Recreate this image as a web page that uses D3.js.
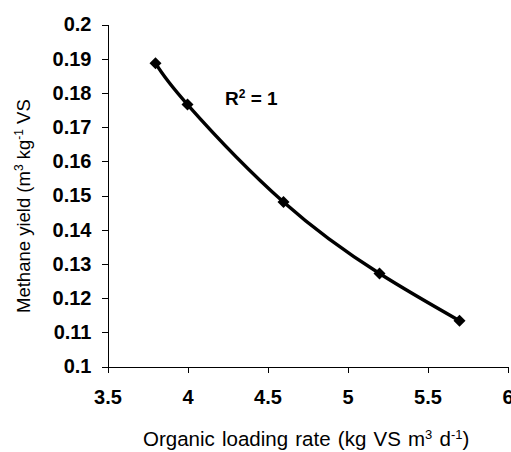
<!DOCTYPE html>
<html>
<head>
<meta charset="utf-8">
<script src="https://cdn.jsdelivr.net/npm/d3@7"></script>
<style>
  body { margin: 0; background: #fff; }
  svg { display: block; font-family: Arial, "Liberation Sans", sans-serif; }
  .tick text { font-weight: bold; font-size: 20px; fill: #000; }
  .axis path, .axis line { stroke: #000; stroke-width: 1px; shape-rendering: crispEdges; }
</style>
</head>
<body>
<div id="chart"></div>
<script>
// values
var loadingRate = [3.8, 4.0, 4.6, 5.2, 5.7];
var methaneYield = [0.1887, 0.1766, 0.1481, 0.1272, 0.1134];
var xTicks = [3.5, 4, 4.5, 5, 5.5, 6];
var yTicks = [0.1, 0.11, 0.12, 0.13, 0.14, 0.15, 0.16, 0.17, 0.18, 0.19, 0.2];

var W = 511, H = 452;
var svg = d3.select("#chart").append("svg").attr("width", W).attr("height", H);

var x = d3.scaleLinear().domain([3.5, 6]).range([107.5, 507.5]);
var y = d3.scaleLinear().domain([0.1, 0.2]).range([366.5, 24.5]);

var data = loadingRate.map(function (d, i) { return { x: d, y: methaneYield[i] }; });

// axes
svg.append("g")
    .attr("class", "axis")
    .attr("transform", "translate(0," + y(0.1) + ")")
    .call(d3.axisBottom(x).tickValues(xTicks).tickSizeInner(6).tickSizeOuter(0).tickPadding(17)
        .tickFormat(d3.format("")));

svg.append("g")
    .attr("class", "axis")
    .attr("transform", "translate(" + x(3.5) + ",0)")
    .call(d3.axisLeft(y).tickValues(yTicks).tickSizeInner(6).tickSizeOuter(0).tickPadding(10)
        .tickFormat(d3.format("")));

// trendline (polynomial fit, passes through every point)
var line = d3.line()
    .x(function (d) { return x(d.x); })
    .y(function (d) { return y(d.y); })
    .curve(d3.curveNatural);

svg.append("path")
    .datum(data)
    .attr("d", line)
    .attr("fill", "none")
    .attr("stroke", "#000")
    .attr("stroke-width", 3.4)
    .attr("stroke-linejoin", "round");

// diamond markers
svg.selectAll(".marker")
    .data(data)
    .enter().append("path")
    .attr("class", "marker")
    .attr("d", d3.symbol().type(d3.symbolSquare).size(72))
    .attr("transform", function (d) { return "translate(" + x(d.x) + "," + y(d.y) + ") rotate(45)"; })
    .attr("fill", "#000");

// R squared label
var r2 = svg.append("text")
    .attr("x", 225)
    .attr("y", 105)
    .attr("font-weight", "bold")
    .attr("font-size", "19px");
r2.append("tspan").text("R");
r2.append("tspan").attr("dy", -7).attr("font-size", "12px").text("2");
r2.append("tspan").attr("dy", 7).text(" = 1");

// axis titles
var xt = svg.append("text")
    .attr("x", 143)
    .attr("y", 446)
    .attr("font-size", "20.5px")
    .attr("word-spacing", "1.5px");
xt.append("tspan").text("Organic loading rate (kg VS m");
xt.append("tspan").attr("dy", -7).attr("font-size", "13px").text("3");
xt.append("tspan").attr("dy", 7).text(" d");
xt.append("tspan").attr("dy", -7).attr("font-size", "13px").text("-1");
xt.append("tspan").attr("dy", 7).text(")");

var yt = svg.append("text")
    .attr("transform", "translate(30,313) rotate(-90)")
    .attr("font-size", "18.5px");
yt.append("tspan").text("Methane yield (m");
yt.append("tspan").attr("dy", -7).attr("font-size", "12px").text("3");
yt.append("tspan").attr("dy", 7).text(" kg");
yt.append("tspan").attr("dy", -7).attr("font-size", "12px").text("-1");
yt.append("tspan").attr("dy", 7).text(" VS");
</script>
</body>
</html>
